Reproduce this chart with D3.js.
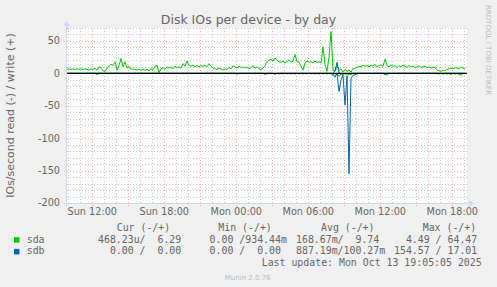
<!DOCTYPE html>
<html><head><meta charset="utf-8">
<script src="https://cdn.jsdelivr.net/npm/d3@7"></script>
<style>
body{margin:0;background:#f0f0f0;}
svg{display:block;}
text{font-family:"DejaVu Sans",sans-serif;}
.mono{font-family:"DejaVu Sans Mono",monospace;white-space:pre;}
</style>
</head><body>
<svg id="chart" width="497" height="287"></svg>
<script>
// ---- data (10-minute samples) ----
const sdaWrite = [
 6,7,6,7,6,7,6,7,6,7,
 6,5,7,6,8,5,10,9,4,3,
 8,11,14,12,18,5,12,23,10,18,
 8,11,6,7,6,5,6,5,6,5,
 6,4,7,6,11,13,1,7,9,6,
 10,8,9,7,11,9,10,8,15,11,
 19,12,11,13,10,12,10,12,11,13,
 10,15,11,8,7,6,8,7,5,7,
 6,9,7,12,10,8,11,9,10,8,
 10,7,9,12,8,10,7,6,8,12,
 18,20,22,19,24,20,18,17,19,16,
 18,21,17,19,29,18,17,11,5,16,
 19,17,18,16,19,17,18,16,41,14,
 3,25,64.5,5,3,12,4,7,2,6,
 3,5,2,7,8,9,11,10,13,11,
 12,10,13,11,14,10,12,13,11,22,
 12,10,13,11,12,9,12,10,13,11,
 9,12,10,11,9,10,12,9,10,11,
 9,10,8,10,9,5,4,3,5,4,
 6,7,8,7,9,8,7,10,8,7
];
const sdaRead = [
 0,0,0,0,0,0,0,0,0,0,
 0,0,0,0,0,2,0,0,0,0,
 0,0,0,0,0,0,0,0,0,0,
 0,0,0,0,0,0,0,0,0,0,
 0,0,0,0,0,0,0,0,0,0,
 0,0,0,0,0,0,0,0,0,0,
 0,0,0,0,0,0,0,0,0,0,
 0,0,0,0,0,0,0,0,0,0,
 0,0,0,0,0,1.5,0,0,0,0,
 0,0,0,0,0,0,0,0,0,0,
 0.8,0,0.8,0,0.8,0,0.8,0,0.8,0,
 0.8,0,0.8,0,0.8,0,0.8,0,0.8,0,
 0.8,0,0.8,0,0.8,0,0.8,0,0.8,0,
 0.8,0,0.5,1,3,0.5,4.5,1,2,0.5,
 3,1,2,0,0,0,0,0,0,0,
 0,0,0,0,0,0,0,0,0,0,
 3.5,0,0,0,0,0,0,0,0,0,
 0,0,0,0,0,0,0,0,0,0,
 0,0,0,0,0,0,1,0,1.5,0,
 1,0,2,0,1,0,1.5,3,0,0
];
const sdbWrite = [
 0,0,0,0,0,0,0,0,0,0,
 0,0,0,0,0,0,0,0,0,0,
 0,0,0,0,0,0,0,0,0,0,
 0,0,0,0,0,0,0,0,0,0,
 0,0,0,0,0,0,0,0,0,0,
 0,0,0,0,0,0,0,0,0,0,
 0,0,0,0,0,0,0,0,0,0,
 0,0,0,0,0,0,0,0,0,0,
 0,0,0,0,0,0,0,0,0,0,
 0,0,0,0,0,0,0,0,0,0,
 0,0,0,0,0,0,0,0,0,0,
 0,0,0,0,0,0,0,0,0,0,
 0,0,0,0,0,0,0,0,0,0,
 0,0,0,0,4,17,1,0,0,0,
 0,0,0,0,0,0,0,0,0,0,
 0,0,0,0,0,0,0,0,0,0,
 0,0,0,0,0,0,0,0,0,0,
 0,0,0,0,0,0,0,0,0,0,
 0,0,0,0,0,0,0,0,0,0,
 0,0,0,0,0,0,0,0,0,0
];
const sdbRead = [
 0,0,0,0,0,0,0,0,0,0,
 0,0,0,0,0,0,0,0,0,0,
 0,0,0,0,0,0,0,0,0,0,
 0,0,0,0,0,0,0,0,0,0,
 0,0,0,0,0,0,0,0,0,0,
 0,0,0,0,0,0,0,0,0,0,
 0,0,0,0,0,0,0,0,0,0,
 0,0,0,0,0,0,0,0,0,0,
 0,0,0,0,0,0,0,0,0,0,
 0,0,0,0,0,0,0,0,0,1.5,
 0,0,0,0,1.5,0,0,0,0,0,
 0,0,0,0,0,0,0,0,0,0,
 0,0,0,0,0,0,0,0,0,0,
 0,0,0,3,6,0,28,10,3,49,
 4,154.6,8,3,2,1,0,0,0,0,
 0,0,0,0,0,0,0,0,0,2,
 0,0,0,0,0,0,0,0,0,0,
 0,0,0,0,0,0,0,0,0,0,
 0,0,0,0,0,0,0,0,0,0,
 0,0,0,0,0,0,0,0,0,0
];
const stepMinutes = 10;
const startTime = new Date(2025, 9, 12, 9, 53, 30);
const endTime = new Date(2025, 9, 13, 19, 13, 30);
const yDomain = [-200, 70];
const yTickValues = [50, 0, -50, -100, -150, -200];

const seriesNames = ["sda", "sdb"];
const seriesColors = ["#00cc00", "#0066b3"];
const legendHeaders = ["Cur (-/+)", "Min (-/+)", "Avg (-/+)", "Max (-/+)"];
const curValues = ["468.23u/  6.29", "  0.00 /  0.00"];
const minValues = ["  0.00 /934.44m", "  0.00 /  0.00"];
const avgValues = ["168.67m/  9.74", "887.19m/100.27m"];
const maxValues = ["  4.49 / 64.47", "154.57 / 17.01"];
const titleText = "Disk IOs per device - by day";
const yLabelText = "IOs/second read (-) / write (+)";
const lastUpdate = "Last update: Mon Oct 13 19:05:05 2025";
const watermark = "RRDTOOL / TOBI OETIKER";
const footer = "Munin 2.0.76";

// ---- layout ----
const svg = d3.select("#chart");
const L = 67, R = 467, T = 28, B = 203;
const x = d3.scaleTime().domain([startTime, endTime]).range([L, R]);
const y = d3.scaleLinear().domain(yDomain).range([B, T]);
const tAt = i => new Date(startTime.getTime() + i * stepMinutes * 60000);

svg.append("rect").attr("width", 497).attr("height", 287).attr("fill", "#f0f0f0");
svg.append("rect").attr("x", L).attr("y", T).attr("width", R - L).attr("height", B - T).attr("fill", "#ffffff");

const grid = svg.append("g").attr("shape-rendering", "crispEdges");
const minorC = "#c8c8c8", majorC = "#f2b0b0";
// minor horizontal
const minorY = d3.range(yDomain[0], yDomain[1] + 1, 10).filter(v => v % 50 !== 0);
grid.selectAll(".hmin").data(minorY).join("line")
  .attr("x1", L).attr("x2", R).attr("y1", d => Math.round(y(d)) + 0.5).attr("y2", d => Math.round(y(d)) + 0.5)
  .attr("stroke", minorC).attr("stroke-dasharray", "1,2");
// minor vertical (hours)
const hours = x.ticks(d3.timeHour.every(1)).filter(d => d.getHours() % 3 !== 0);
grid.selectAll(".vmin").data(hours).join("line")
  .attr("x1", d => Math.round(x(d)) + 0.5).attr("x2", d => Math.round(x(d)) + 0.5).attr("y1", T).attr("y2", B)
  .attr("stroke", minorC).attr("stroke-dasharray", "1,2");
// major horizontal
const majorY = d3.range(-200, yDomain[1] + 1, 50);
grid.selectAll(".hmaj").data(majorY).join("line")
  .attr("x1", L - 3).attr("x2", R + 2).attr("y1", d => Math.round(y(d)) + 0.5).attr("y2", d => Math.round(y(d)) + 0.5)
  .attr("stroke", majorC).attr("stroke-dasharray", "1,2");
// major vertical (3 hours)
const majT = x.ticks(d3.timeHour.every(3));
grid.selectAll(".vmaj").data(majT).join("line")
  .attr("x1", d => Math.round(x(d)) + 0.5).attr("x2", d => Math.round(x(d)) + 0.5).attr("y1", T).attr("y2", B + 3)
  .attr("stroke", majorC).attr("stroke-dasharray", "1,2");

// ---- series ----
const lineW = d3.line().x((d, i) => x(tAt(i))).y(d => y(d));
const lineR = d3.line().x((d, i) => x(tAt(i))).y(d => y(-d));
const plot = svg.append("g");
plot.append("path").datum(sdaRead).attr("d", lineR).attr("fill", "none").attr("stroke", seriesColors[0]).attr("stroke-width", 1);
plot.append("path").datum(sdaWrite).attr("d", lineW).attr("fill", "none").attr("stroke", seriesColors[0]).attr("stroke-width", 1);
plot.append("path").datum(sdbRead).attr("d", lineR).attr("fill", "none").attr("stroke", seriesColors[1]).attr("stroke-width", 1);
plot.append("path").datum(sdbWrite).attr("d", lineW).attr("fill", "none").attr("stroke", seriesColors[1]).attr("stroke-width", 1);
// zero line
plot.append("line").attr("x1", L).attr("x2", R).attr("y1", y(0)).attr("y2", y(0)).attr("stroke", "#000").attr("stroke-width", 1.2);

// ---- axes ----
const axisC = "#cfd6f8";
svg.append("line").attr("x1", L - 4).attr("x2", R + 3).attr("y1", B + 0.5).attr("y2", B + 0.5).attr("stroke", axisC).attr("shape-rendering", "crispEdges");
svg.append("path").attr("d", `M${R + 2},${B - 3}L${R + 7},${B + 0.5}L${R + 2},${B + 4}Z`).attr("fill", axisC);
svg.append("line").attr("x1", L - 0.5).attr("x2", L - 0.5).attr("y1", B + 4).attr("y2", T - 3).attr("stroke", axisC).attr("shape-rendering", "crispEdges");
svg.append("path").attr("d", `M${L - 4},${T - 2}L${L - 0.5},${T - 7}L${L + 3},${T - 2}Z`).attr("fill", axisC);

const fontC = "#666";
// y tick labels
svg.selectAll(".ytl").data(yTickValues).join("text")
  .attr("x", 60).attr("y", d => y(d)).attr("dy", "0.36em").attr("text-anchor", "end")
  .attr("font-size", "9.7px").attr("fill", fontC).text(d => d);
// x tick labels
const labT = x.ticks(d3.timeHour.every(6));
const fmt = d3.timeFormat("%a %H:%M");
svg.selectAll(".xtl").data(labT).join("text")
  .attr("x", d => x(d)).attr("y", 215).attr("text-anchor", "middle")
  .attr("font-size", "9.7px").attr("fill", fontC).text(d => fmt(d));

// title
svg.append("text").attr("x", 248.5).attr("y", 24).attr("text-anchor", "middle")
  .attr("font-size", "12.5px").attr("fill", fontC).text(titleText);
// y label
svg.append("text").attr("transform", `translate(14,${(T + B) / 2}) rotate(-90)`).attr("text-anchor", "middle")
  .attr("font-size", "11px").attr("fill", fontC).text(yLabelText);
// watermark
svg.append("text").attr("transform", "translate(486,5) rotate(90)").attr("text-anchor", "start")
  .attr("font-size", "7px").attr("fill", "#bbb").text(watermark);

// ---- legend ----
const headerX = [116.7, 218.3, 321, 422.7];
const fieldX = [98, 197.7, 296, 394];
const rowY = [242.5, 254.2];
const lg = svg.append("g").attr("class", "mono").attr("font-size", "9.9px").attr("fill", fontC);
lg.selectAll(".hdr").data(legendHeaders).join("text")
  .attr("class", "mono").attr("x", (d, i) => headerX[i]).attr("y", 231).text(d => d);
seriesNames.forEach((name, r) => {
  svg.append("rect").attr("x", 14).attr("y", rowY[r] - 5.3).attr("width", 5.5).attr("height", 5.5).attr("fill", seriesColors[r]);
  lg.append("text").attr("class", "mono").attr("x", 26.7).attr("y", rowY[r]).text(name);
  [curValues[r], minValues[r], avgValues[r], maxValues[r]].forEach((v, c) => {
    lg.append("text").attr("class", "mono").attr("xml:space", "preserve").attr("x", fieldX[c]).attr("y", rowY[r]).text(v);
  });
});
lg.append("text").attr("class", "mono").attr("x", 261.7).attr("y", 266.3).text(lastUpdate);
svg.append("text").attr("x", 247.7).attr("y", 279.5).attr("text-anchor", "middle")
  .attr("font-size", "7px").attr("fill", "#bbb").text(footer);
</script>
</body></html>
